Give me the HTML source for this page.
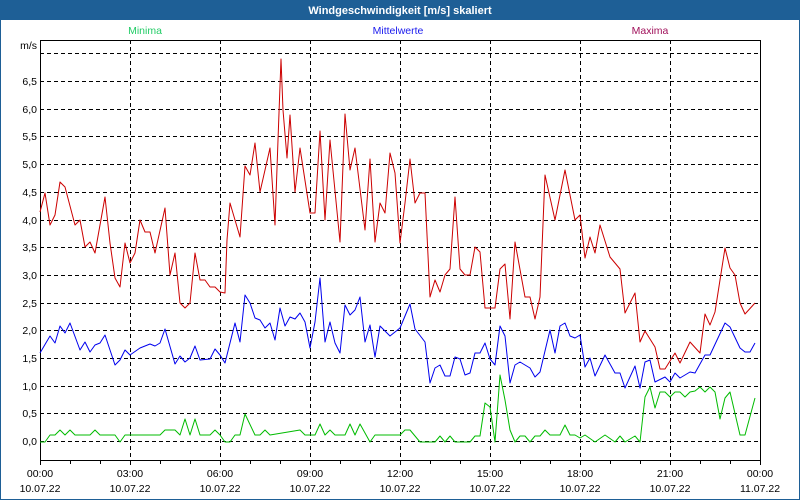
<!DOCTYPE html>
<html><head><meta charset="utf-8"><style>
html,body{margin:0;padding:0;background:#fff;}
svg{display:block;}
text{font-family:"Liberation Sans",sans-serif;font-size:10.5px;}
</style></head><body>
<svg width="800" height="500" viewBox="0 0 800 500" xmlns="http://www.w3.org/2000/svg">
<rect x="0" y="0" width="800" height="500" fill="#fff"/>
<rect x="0.5" y="0.5" width="799" height="499" fill="none" stroke="#1e5f96" stroke-width="1"/>
<rect x="0" y="0" width="800" height="20" fill="#1e5f96"/>
<text x="400" y="14" text-anchor="middle" fill="#fff" font-weight="bold" style="font-size:11px">Windgeschwindigkeit [m/s] skaliert</text>
<text x="145" y="34" text-anchor="middle" fill="#22cc66">Minima</text>
<text x="398" y="34" text-anchor="middle" fill="#1a1aee">Mittelwerte</text>
<text x="650" y="34" text-anchor="middle" fill="#a0105a">Maxima</text>
<text x="37" y="49" text-anchor="end" fill="#000">m/s</text>
<g stroke="#000" stroke-width="1" stroke-dasharray="4,3" fill="none">
<path d="M40 53.5H760M40 81.5H760M40 109.5H760M40 136.5H760M40 164.5H760M40 192.5H760M40 220.5H760M40 247.5H760M40 275.5H760M40 303.5H760M40 330.5H760M40 358.5H760M40 386.5H760M40 413.5H760M40 441.5H760"/>
<path d="M130.5 40V460M220.5 40V460M310.5 40V460M400.5 40V460M490.5 40V460M580.5 40V460M670.5 40V460"/>
</g>
<g stroke="#000" stroke-width="1" fill="none">
<path d="M40.5 40V460.5H760.5V40M40 40.5H760"/>
<path d="M70.5 460v4M100.5 460v4M130.5 460v5M160.5 460v4M190.5 460v4M220.5 460v5M250.5 460v4M280.5 460v4M310.5 460v5M340.5 460v4M370.5 460v4M400.5 460v5M430.5 460v4M460.5 460v4M490.5 460v5M520.5 460v4M550.5 460v4M580.5 460v5M610.5 460v4M640.5 460v4M670.5 460v5M700.5 460v4M730.5 460v4M40.5 460v5M760.5 460v5"/>
</g>
<g fill="#000" text-anchor="end">
<text x="37" y="85">6,5</text><text x="37" y="113">6,0</text><text x="37" y="168">5,0</text><text x="37" y="140">5,5</text>
<text x="37" y="196">4,5</text><text x="37" y="224">4,0</text><text x="37" y="251">3,5</text><text x="37" y="279">3,0</text>
<text x="37" y="307">2,5</text><text x="37" y="334">2,0</text><text x="37" y="362">1,5</text><text x="37" y="390">1,0</text>
<text x="37" y="417">0,5</text><text x="37" y="445">0,0</text>
</g>
<g fill="#000" text-anchor="middle">
<text x="40" y="477">00:00</text><text x="130" y="477">03:00</text><text x="220" y="477">06:00</text><text x="310" y="477">09:00</text><text x="400" y="477">12:00</text><text x="490" y="477">15:00</text><text x="580" y="477">18:00</text><text x="670" y="477">21:00</text><text x="760" y="477">00:00</text>
<text x="40" y="492">10.07.22</text><text x="130" y="492">10.07.22</text><text x="220" y="492">10.07.22</text><text x="310" y="492">10.07.22</text><text x="400" y="492">10.07.22</text><text x="490" y="492">10.07.22</text><text x="580" y="492">10.07.22</text><text x="670" y="492">10.07.22</text><text x="760" y="492">11.07.22</text>
</g>
<g fill="none" stroke-width="1" stroke-linejoin="round">
<polyline stroke="#cc0000" points="40,212 45,193 50,225 55,215 60,182 65,187 75,225 80,220 85,247 90,242 95,253 105,197 110,243 115,278 120,287 125,243 130,263 135,253 140,220 145,232 150,232 155,253 165,208 170,275 175,253 180,303 185,308 190,303 195,253 200,280 205,280 210,287 215,287 220,292 225,293 227,240 230,203 235,220 240,237 245,166 250,175 255,143 260,192 270,148 275,225 278,140 281,59 283,110 287,158 290,115 295,192 300,148 310,213 315,213 320,131 325,220 330,140 340,242 345,114 350,170 355,148 365,230 370,159 375,242 380,203 385,213 390,153 395,173 400,243 405,203 410,159 415,203 420,193 425,193 430,297 435,280 440,292 445,275 450,269 455,197 460,269 465,275 470,275 475,247 480,252 485,308 495,308 500,269 505,264 510,319 515,242 525,297 530,297 535,319 540,297 545,175 555,220 565,170 575,220 580,215 585,258 590,237 595,253 600,225 610,257 620,269 625,313 635,293 640,342 645,331 655,347 660,369 665,369 675,353 680,363 690,342 700,353 705,314 710,325 715,312 725,248 730,268 735,275 740,303 745,314 755,303"/>
<polyline stroke="#0000ee" points="40,353 50,336 55,343 60,326 65,333 70,323 80,350 85,342 90,352 95,345 100,343 105,335 115,365 120,360 125,350 130,355 140,348 150,344 155,346 160,343 165,329 175,364 180,356 185,362 190,358 195,346 200,360 210,359 215,349 220,355 225,363 235,323 240,342 245,295 250,303 255,318 260,320 265,328 270,323 275,340 280,308 285,326 290,317 295,319 300,313 305,322 310,348 315,322 320,278 325,342 330,322 335,343 340,353 345,305 350,315 355,310 360,297 365,342 370,325 375,357 380,326 390,336 400,328 410,304 415,329 425,342 430,383 435,368 440,365 445,376 450,376 455,357 460,359 465,375 470,373 475,353 480,353 485,343 490,359 495,365 500,326 505,336 510,383 515,365 520,362 530,368 535,377 540,372 550,330 555,353 560,326 565,323 570,336 575,338 580,335 585,367 590,358 595,376 605,355 615,373 620,373 625,388 635,366 640,388 645,362 650,360 655,382 665,377 670,382 675,373 680,378 690,372 695,373 705,355 710,355 725,323 730,327 740,348 745,352 750,352 755,343"/>
<polyline stroke="#00bb00" points="40,442 45,442 50,435 55,435 60,430 65,435 70,430 75,435 90,435 95,430 100,435 115,435 120,442 125,435 160,435 165,430 175,430 180,435 185,419 190,435 195,419 200,435 210,435 215,430 220,435 225,442 230,442 235,435 240,435 245,414 255,435 260,435 265,430 270,435 300,430 305,435 315,435 320,424 325,435 330,430 335,435 345,435 350,424 355,435 360,424 370,442 375,435 400,435 405,430 410,430 420,442 435,442 440,436 445,442 450,436 455,442 470,442 475,436 480,436 485,403 490,407 495,442 500,375 505,400 510,430 515,442 520,436 525,436 530,442 535,436 540,436 545,430 550,435 560,435 565,425 570,435 575,435 580,438 585,435 595,442 605,435 615,442 620,436 625,442 635,436 640,442 645,397 650,387 655,408 660,392 665,392 670,397 675,392 680,392 685,397 690,392 695,391 700,387 705,392 710,387 715,392 720,419 725,398 730,392 740,435 745,435 755,398"/>
</g>
</svg>
</body></html>
